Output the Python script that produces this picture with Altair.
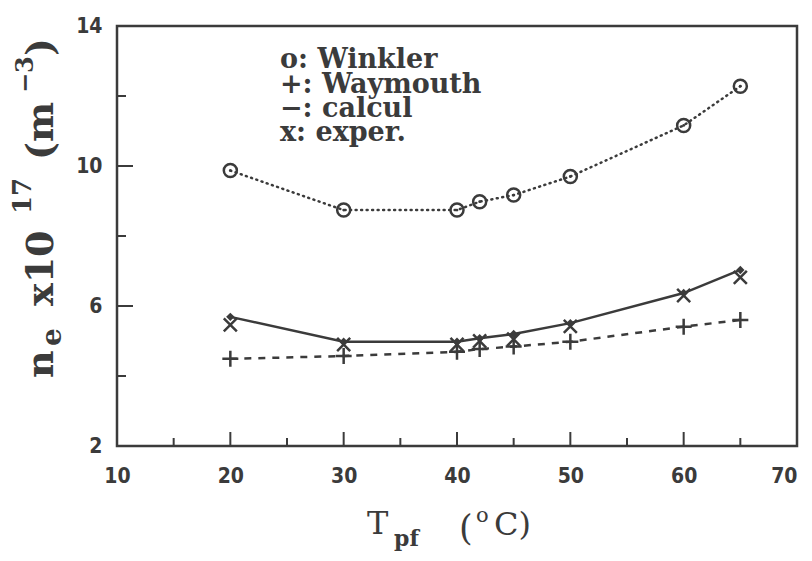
import altair as alt
import pandas as pd

# ---- data ----
temps = [20, 30, 40, 42, 45, 50, 60, 65]
winkler = [9.87, 8.74, 8.74, 8.98, 9.17, 9.70, 11.16, 12.28]
waymouth = [4.49, 4.57, 4.69, 4.77, 4.84, 4.98, 5.41, 5.60]
calcul = [5.69, 4.98, 4.98, 5.08, 5.20, 5.51, 6.37, 7.03]
exper = [5.46, 4.90, 4.90, 5.00, 5.05, 5.42, 6.30, 6.82]

x_major = [10, 20, 30, 40, 50, 60, 70]
x_minor = [15, 25, 35, 45, 55, 65]
y_major = [2, 6, 10, 14]
y_minor = [4, 8, 12]

legend_lines = ["o: Winkler", "+: Waymouth", "\u2212: calcul", "x: exper."]

INK = "#3b3b3b"
W, H = 680, 420
XD = [10, 70]
YD = [2, 14]
TICKFONT = "DejaVu Sans Condensed, Liberation Sans Narrow, Arial Narrow, sans-serif"

xs = alt.Scale(domain=XD, nice=False, zero=False)
ys = alt.Scale(domain=YD, nice=False, zero=False)

xaxis = alt.Axis(values=x_major, ticks=False, tickSize=0, domain=False, grid=False,
                 labelFont=TICKFONT, labelFontSize=21, labelFontWeight="bold",
                 labelColor=INK, labelPadding=19, labelFlush=False,
                 labelAlign=alt.expr("datum.value == 70 ? 'right' : 'center'"),
                 title=None)
yaxis = alt.Axis(values=y_major, ticks=False, tickSize=0, domain=False, grid=False,
                 labelFont=TICKFONT, labelFontSize=21, labelFontWeight="bold",
                 labelColor=INK, labelPadding=15, title=None)

df = pd.DataFrame({
    "T": temps, "winkler": winkler, "waymouth": waymouth,
    "calcul": calcul, "exper": exper,
})

base = alt.Chart(df)

def X(field="T:Q"):
    return alt.X(field, scale=xs, axis=xaxis)

def Y(field):
    return alt.Y(field, scale=ys, axis=yaxis)

# Winkler: dotted line + open circles
w_line = base.mark_line(color=INK, strokeWidth=2.5, strokeDash=[1, 4.5], strokeCap="round").encode(
    x=X(), y=Y("winkler:Q"))
w_pts = base.mark_point(shape="circle", filled=False, color=INK, size=170, strokeWidth=2.5, opacity=1).encode(
    x=X(), y=Y("winkler:Q"))
w_dot = base.mark_point(shape="circle", filled=True, color=INK, size=8, opacity=1).encode(
    x=X(), y=Y("winkler:Q"))

# Waymouth: dashed line + plus
p_line = base.mark_line(color=INK, strokeWidth=2.5, strokeDash=[7, 7]).encode(
    x=X(), y=Y("waymouth:Q"))
p_pts = base.mark_point(shape="M-1,0L1,0M0,-1L0,1", filled=False, color=INK, size=256,
                        strokeWidth=2.5, opacity=1).encode(
    x=X(), y=Y("waymouth:Q"))

# calcul: solid line + small filled marks
c_line = base.mark_line(color=INK, strokeWidth=2.5).encode(
    x=X(), y=Y("calcul:Q"))
c_pts = base.mark_point(shape="diamond", filled=True, color=INK, size=70, opacity=1).encode(
    x=X(), y=Y("calcul:Q"))

# exper: x markers
e_pts = base.mark_point(shape="M-1,-1L1,1M-1,1L1,-1", filled=False, color=INK, size=170,
                        strokeWidth=2.5, opacity=1).encode(
    x=X(), y=Y("exper:Q"))

# inward ticks
def xticks(vals, length):
    return alt.Chart(pd.DataFrame({"T": vals})).mark_rule(color=INK, strokeWidth=2).encode(
        x=X(), y=alt.value(H), y2=alt.value(H - length))

def yticks(vals, length):
    return alt.Chart(pd.DataFrame({"v": vals})).mark_rule(color=INK, strokeWidth=2).encode(
        y=Y("v:Q"), x=alt.value(0), x2=alt.value(length))

OX, OY = 117, 26  # page position of plot origin

def txt(s, px, py, size, weight="bold", angle=0, font="DejaVu Serif"):
    return alt.Chart(pd.DataFrame({"t": [s]})).mark_text(
        font=font, fontSize=size, fontWeight=weight, color=INK, angle=angle,
        align="left", baseline="alphabetic").encode(
        x=alt.value(px - OX), y=alt.value(py - OY), text="t:N")

# y title pieces (rotated)
ytitle = [
    txt("n", 53, 378, 38, angle=270),
    txt("e", 61, 346, 28, angle=270),
    txt("x10", 53, 306, 38, angle=270),
    txt("17", 31, 214, 26, angle=270),
    txt("(m", 53, 160, 38, angle=270),
    txt("\u22123", 33, 93, 24, angle=270),
    txt(")", 53, 56, 38, angle=270),
]

# x title pieces
xtitle = [
    txt("T", 367, 534, 32, weight="normal"),
    txt("pf", 394, 546, 22),
    txt("(", 459, 540, 35, weight="normal"),
    txt("o", 476, 522, 21, weight="normal"),
    txt("C)", 494, 535, 32, weight="normal"),
]

legend = [txt(s, 280, b, 27) for s, b in zip(legend_lines, [68, 93, 117, 141])]

chart = alt.layer(
    w_line, p_line, c_line, w_pts, w_dot, p_pts, c_pts, e_pts,
    xticks(x_major, 14), xticks(x_minor, 8), yticks(y_major, 16), yticks(y_minor, 9),
    *ytitle, *xtitle, *legend,
).properties(
    width=W, height=H,
    background="white",
    autosize=alt.AutoSizeParams(type="none"),
    padding={"left": 109, "top": 18, "right": 7, "bottom": 107},
).configure_view(stroke=INK, strokeWidth=2.5)

chart.save("out.html", embed_options={"renderer": "svg", "actions": False})
